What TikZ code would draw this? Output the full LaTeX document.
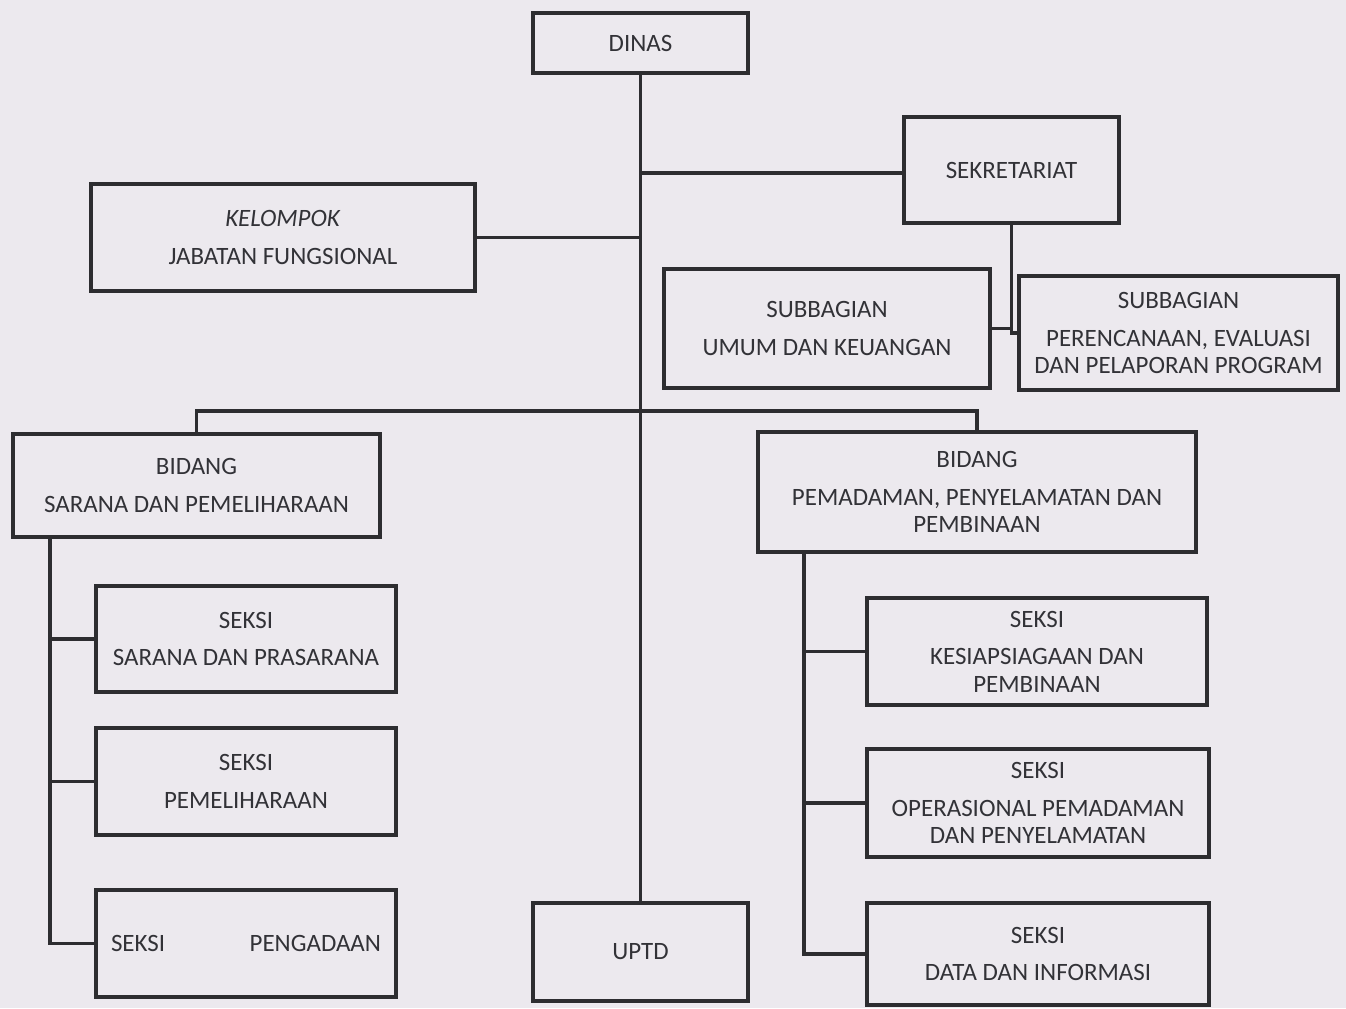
\documentclass[tikz,border=0pt]{standalone}
\usepackage{fontspec}
\setmainfont{Carlito}
\definecolor{bg}{RGB}{236,233,238}
\definecolor{ln}{RGB}{45,45,48}
\definecolor{tx}{RGB}{50,50,55}
\tikzset{
  box/.style={draw=ln,line width=2.2pt,fill=bg,text=tx,align=center,inner sep=0pt,
    font=\fontsize{14.2}{15.5}\selectfont},
  conn/.style={draw=ln,line width=2pt}}
\begin{document}
\begin{tikzpicture}[x=0.02cm,y=-0.02cm]
\fill[bg] (0,0) rectangle (1346,1008);
\useasboundingbox (0,0) rectangle (1346,1008);
% boxes
\node[box,minimum width=4.3cm,minimum height=1.2cm] (dinas) at (640.5,43) {DINAS};
\node[box,minimum width=4.3cm,minimum height=2.12cm] (sekr) at (1011.5,170) {SEKRETARIAT};
\node[box,minimum width=7.68cm,minimum height=2.14cm] (kel) at (283,237.5) {\textit{KELOMPOK}\\[6pt]JABATAN FUNGSIONAL};
\node[box,minimum width=6.52cm,minimum height=2.38cm] (umum) at (827,328.5) {SUBBAGIAN\\[6pt]UMUM DAN KEUANGAN};
\node[box,minimum width=6.38cm,minimum height=2.28cm] (renc) at (1178.5,333) {SUBBAGIAN\\[6pt]PERENCANAAN, EVALUASI\\DAN PELAPORAN PROGRAM};
\node[box,minimum width=7.34cm,minimum height=2.06cm] (bsar) at (196.5,485.5) {BIDANG\\[6pt]SARANA DAN PEMELIHARAAN};
\node[box,minimum width=8.76cm,minimum height=2.4cm] (bpem) at (977,492) {BIDANG\\[6pt]PEMADAMAN, PENYELAMATAN DAN\\PEMBINAAN};
\node[box,minimum width=6cm,minimum height=2.12cm] (s1) at (246,639) {SEKSI\\[6pt]SARANA DAN PRASARANA};
\node[box,minimum width=6cm,minimum height=2.14cm] (s2) at (246,781.5) {SEKSI\\[6pt]PEMELIHARAAN};
\node[box,minimum width=6cm,minimum height=2.14cm] (s3) at (246,943.5) {\makebox[5.4cm]{SEKSI\hfill PENGADAAN}};
\node[box,minimum width=4.3cm,minimum height=1.96cm] (uptd) at (640.5,952) {UPTD};
\node[box,minimum width=6.8cm,minimum height=2.14cm] (k1) at (1037,651.5) {SEKSI\\[6pt]KESIAPSIAGAAN DAN\\PEMBINAAN};
\node[box,minimum width=6.84cm,minimum height=2.16cm] (k2) at (1038,803) {SEKSI\\[6pt]OPERASIONAL PEMADAMAN\\DAN PENYELAMATAN};
\node[box,minimum width=6.84cm,minimum height=2.04cm] (k3) at (1038,954) {SEKSI\\[6pt]DATA DAN INFORMASI};
% helper coordinates
\coordinate (bus) at (640,411);
\coordinate (lsp) at (50,0);
\coordinate (rsp) at (804,0);
% connectors
\draw[conn] (dinas.south) -- (uptd.north);
\draw[conn] ([yshift=-0.06cm]sekr.west) -- ([yshift=-0.06cm]sekr.west -| dinas.south);
\draw[conn] (kel.east) -- (kel.east -| dinas.south);
\draw[conn] (sekr.south) |- (renc.west);
\draw[conn] (umum.east) -- (umum.east -| sekr.south);
\draw[conn] (bsar.north) -- (bsar.north |- bus) -- (bpem.north |- bus) -- (bpem.north);
\draw[conn] (bsar.south -| lsp) |- (s3.west);
\draw[conn] (s1.west -| lsp) -- (s1.west);
\draw[conn] (s2.west -| lsp) -- (s2.west);
\draw[conn] (bpem.south -| rsp) |- (k3.west);
\draw[conn] (k1.west -| rsp) -- (k1.west);
\draw[conn] (k2.west -| rsp) -- (k2.west);
\end{tikzpicture}
\end{document}
